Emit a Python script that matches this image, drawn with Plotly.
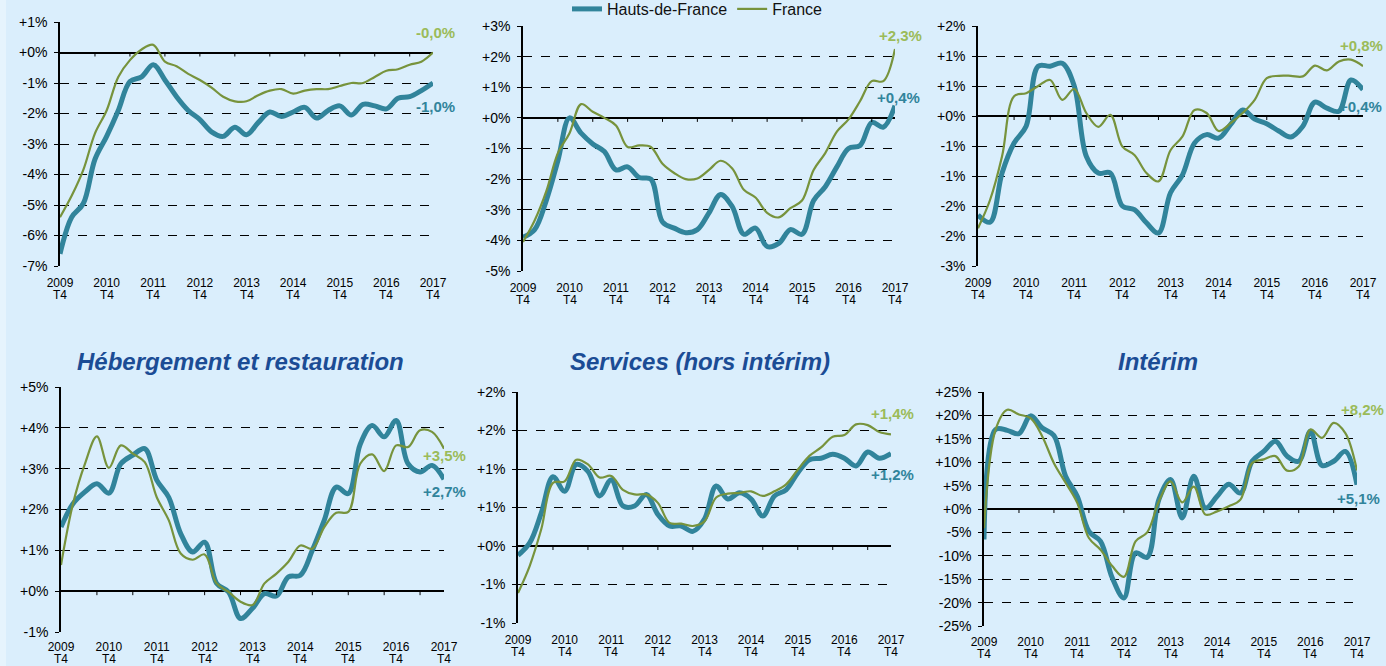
import plotly.graph_objects as go

# ---------------- data (quarterly, 2009 T4 -> 2017 T4) ----------------
quarter_idx = list(range(33))
year_tickvals = [0, 4, 8, 12, 16, 20, 24, 28, 32]
year_labels = ["2009", "2010", "2011", "2012", "2013", "2014", "2015", "2016", "2017"]
quarter_label = "T4"
minor_tick_idx = [3, 6, 9, 12, 15, 18, 21, 24, 27, 30]

hdf_p1 = [-6.6, -5.4, -4.95, -3.5, -2.75, -1.9, -0.95, -0.8, -0.4, -0.9, -1.45, -1.9, -2.2,
          -2.6, -2.75, -2.45, -2.7, -2.3, -1.95, -2.1, -1.95, -1.8, -2.15, -1.9, -1.75, -2.05,
          -1.7, -1.75, -1.85, -1.5, -1.45, -1.25, -1.0]
fr_p1 = [-5.4, -4.7, -3.85, -2.65, -1.9, -0.8, -0.25, 0.1, 0.25, -0.3, -0.45, -0.7, -0.9,
         -1.15, -1.45, -1.6, -1.6, -1.4, -1.25, -1.2, -1.35, -1.25, -1.2, -1.2, -1.1, -1.0,
         -1.0, -0.8, -0.6, -0.55, -0.4, -0.3, 0.0]

hdf_p2 = [-3.9, -3.65, -2.7, -1.4, 0.0, -0.5, -0.85, -1.1, -1.7, -1.6, -1.95, -2.0, -3.4,
          -3.6, -3.75, -3.65, -3.1, -2.5, -2.9, -3.8, -3.6, -4.2, -4.1, -3.65, -3.8, -2.7,
          -2.25, -1.6, -1.0, -0.9, -0.15, -0.3, 0.4]
fr_p2 = [-4.05, -3.35, -2.4, -1.15, -0.5, 0.45, 0.2, 0.0, -0.25, -0.95, -0.9, -0.95, -1.5,
         -1.8, -2.0, -1.98, -1.7, -1.4, -1.65, -2.35, -2.6, -3.1, -3.25, -2.95, -2.7, -1.7,
         -1.15, -0.45, -0.05, 0.55, 1.2, 1.2, 2.25]

hdf_p3 = [-1.65, -1.77, -0.95, -0.45, -0.17, 0.83, 0.83, 0.88, 0.5, -0.67, -0.95, -0.95, -1.5,
          -1.56, -1.78, -1.95, -1.28, -0.98, -0.45, -0.31, -0.37, -0.14, 0.1, -0.05, -0.13,
          -0.25, -0.35, -0.17, 0.23, 0.13, 0.08, 0.6, 0.44]
fr_p3 = [-1.87, -1.4, -0.67, 0.33, 0.38, 0.5, 0.6, 0.27, 0.45, 0.05, -0.18, 0.02, -0.51,
         -0.65, -0.95, -1.09, -0.57, -0.34, 0.1, 0.05, -0.25, -0.12, 0.05, 0.27, 0.63, 0.67,
         0.67, 0.66, 0.84, 0.76, 0.91, 0.94, 0.83]

hdf_hebergement = [1.57, 2.14, 2.43, 2.63, 2.4, 3.12, 3.33, 3.49, 2.72, 2.3, 1.41, 0.96, 1.2,
                   0.19, -0.02, -0.67, -0.42, -0.06, -0.12, 0.35, 0.39, 1.0, 1.74, 2.55, 2.39,
                   3.6, 4.06, 3.78, 4.18, 3.12, 2.92, 3.08, 2.74]
fr_hebergement = [0.64, 2.14, 3.12, 3.79, 3.02, 3.57, 3.37, 3.16, 2.3, 1.74, 0.92, 0.77, 0.9,
                  0.19, -0.02, -0.26, -0.34, 0.19, 0.43, 0.72, 1.12, 1.04, 1.57, 1.92, 1.94,
                  3.12, 3.35, 2.94, 3.57, 3.53, 3.94, 3.9, 3.49]

hdf_services = [-0.12, 0.04, 0.43, 0.9, 0.71, 1.06, 0.97, 0.65, 0.86, 0.52, 0.52, 0.67, 0.41,
                0.26, 0.26, 0.19, 0.35, 0.78, 0.61, 0.69, 0.61, 0.39, 0.65, 0.73, 0.95, 1.12,
                1.14, 1.19, 1.14, 1.04, 1.22, 1.14, 1.2]
fr_services = [-0.61, -0.26, 0.22, 0.82, 0.84, 1.12, 1.06, 0.89, 0.91, 0.73, 0.67, 0.67, 0.56,
               0.3, 0.29, 0.26, 0.32, 0.63, 0.68, 0.69, 0.71, 0.65, 0.71, 0.8, 0.99, 1.17,
               1.28, 1.42, 1.44, 1.58, 1.57, 1.48, 1.45]

hdf_interim = [-6.5, 17.0, 16.8, 16.1, 19.9, 17.3, 15.7, 7.0, 2.7, -4.8, -6.9, -14.7, -19.0,
               -9.4, -10.3, 2.0, 6.3, -1.9, 7.0, 0.2, 2.7, 5.3, 3.4, 10.2, 12.3, 14.5, 11.3,
               10.2, 16.6, 9.3, 10.2, 12.3, 5.2]
fr_interim = [-4.1, 17.0, 21.2, 20.2, 19.4, 15.5, 9.8, 5.6, 1.3, -6.2, -8.7, -12.2, -14.5,
              -6.9, -5.0, 1.6, 5.9, 1.4, 4.8, -1.2, -0.5, 0.6, 2.0, 9.8, 10.6, 11.3, 8.2, 9.1,
              17.0, 15.2, 18.4, 16.2, 8.2]

# y tick values and their labels (as printed on the chart)
yticks_p1 = [-7, -6, -5, -4, -3, -2, -1, 0, 1]
ylabels_p1 = ["-7%", "-6%", "-5%", "-4%", "-3%", "-2%", "-1%", "+0%", "+1%"]
yticks_p2 = [-5, -4, -3, -2, -1, 0, 1, 2, 3]
ylabels_p2 = ["-5%", "-4%", "-3%", "-2%", "-1%", "+0%", "+1%", "+2%", "+3%"]
yticks_p3 = [-2.5, -2.0, -1.5, -1.0, -0.5, 0, 0.5, 1.0, 1.5]
ylabels_p3 = ["-3%", "-2%", "-2%", "-1%", "-1%", "+0%", "+1%", "+1%", "+2%"]
yticks_heb = [-1, 0, 1, 2, 3, 4, 5]
ylabels_heb = ["-1%", "+0%", "+1%", "+2%", "+3%", "+4%", "+5%"]
yticks_serv = [-1.0, -0.5, 0, 0.5, 1.0, 1.5, 2.0]
ylabels_serv = ["-1%", "-1%", "+0%", "+1%", "+1%", "+2%", "+2%"]
yticks_int = [-25, -20, -15, -10, -5, 0, 5, 10, 15, 20, 25]
ylabels_int = ["-25%", "-20%", "-15%", "-10%", "-5%", "+0%", "+5%", "+10%", "+15%", "+20%", "+25%"]

titles = ["", "", "", "Hébergement et restauration", "Services (hors intérim)", "Intérim"]
end_labels_fr = ["-0,0%", "+2,3%", "+0,8%", "+3,5%", "+1,4%", "+8,2%"]
end_labels_hdf = ["-1,0%", "+0,4%", "+0,4%", "+2,7%", "+1,2%", "+5,1%"]

# ---------------- styling / layout ----------------
W, H = 1386, 666
BG = "#daeefc"
TEAL = "#31849b"
GREEN = "#77933c"
GREEN_LBL = "#9bbb59"
TITLE_C = "#1b4c95"

panels = [
    dict(h=hdf_p1, f=fr_p1, tv=yticks_p1, tt=ylabels_p1, area=(60, 433, 22, 266),
         lab_f=(20, 2), lab_h=(-23, 2), tc=None, so=8, t4=-29),
    dict(h=hdf_p2, f=fr_p2, tv=yticks_p2, tt=ylabels_p2, area=(523, 895, 26, 271),
         lab_f=(13, 5), lab_h=(8, 3), tc=None, so=8, t4=-29),
    dict(h=hdf_p3, f=fr_p3, tv=yticks_p3, tt=ylabels_p3, area=(978, 1363, 26, 266),
         lab_f=(21, -2), lab_h=(-17, -3), tc=None, so=8, t4=-29),
    dict(h=hdf_hebergement, f=fr_hebergement, tv=yticks_heb, tt=ylabels_heb,
         area=(61, 444, 387, 632), lab_f=(-7, 0), lab_h=(-12, 0), tc=240, so=6, t4=-27),
    dict(h=hdf_services, f=fr_services, tv=yticks_serv, tt=ylabels_serv,
         area=(518, 891, 392, 623), lab_f=(21, 1), lab_h=(-21, 1), tc=700, so=8, t4=-29),
    dict(h=hdf_interim, f=fr_interim, tv=yticks_int, tt=ylabels_int,
         area=(984, 1357, 392, 626), lab_f=(61, 5), lab_h=(-14, 1), tc=1158, so=7, t4=-28),
]

FONT = "Liberation Sans, Arial, sans-serif"
fig = go.Figure()
annotations = []
shapes = [dict(type="rect", xref="paper", yref="paper", x0=0, x1=6 / W, y0=0, y1=1,
               fillcolor="#e6f4fd", line=dict(width=0), layer="below")]
layout = {}

for k, p in enumerate(panels):
    n = k + 1
    sx = "" if n == 1 else str(n)
    xr, yr = "x" + sx, "y" + sx
    x0, x1, y0, y1 = p["area"]
    ymin, ymax = p["tv"][0], p["tv"][-1]

    fig.add_trace(go.Scatter(x=quarter_idx, y=p["h"], mode="lines", name="Hauts-de-France",
                             line=dict(color=TEAL, width=5, shape="spline", smoothing=1.0),
                             legendgroup="hdf", showlegend=(n == 1), xaxis=xr, yaxis=yr,
                             cliponaxis=False))
    fig.add_trace(go.Scatter(x=quarter_idx, y=p["f"], mode="lines", name="France",
                             line=dict(color=GREEN, width=2.2, shape="spline", smoothing=1.0),
                             legendgroup="fr", showlegend=(n == 1), xaxis=xr, yaxis=yr,
                             cliponaxis=False))

    layout["xaxis" + sx] = dict(
        domain=[x0 / W, x1 / W], anchor=yr, range=[0, 32], tickmode="array",
        tickvals=year_tickvals, ticktext=year_labels, showgrid=False, zeroline=False,
        showline=False, ticks="", tickfont=dict(size=12, color="#000", family=FONT),
        ticklabelstandoff=p["so"], automargin=False, fixedrange=True)
    layout["yaxis" + sx] = dict(
        domain=[1 - y1 / H, 1 - y0 / H], anchor=xr, range=[ymin, ymax], tickmode="array",
        tickvals=p["tv"], ticktext=p["tt"], showgrid=True, gridcolor="#000", gridwidth=1,
        griddash="dash", zeroline=True, zerolinecolor="#000", zerolinewidth=1.5,
        showline=True, linecolor="#000", linewidth=1.5, ticks="outside", ticklen=4,
        tickcolor="#000", tickwidth=1, tickfont=dict(size=14, color="#000", family=FONT),
        ticklabelstandoff=4, automargin=False, fixedrange=True)

    # second line of the category labels ("T4")
    for tv in year_tickvals:
        annotations.append(dict(xref=xr, yref=yr + " domain", x=tv, y=0, text=quarter_label,
                                showarrow=False, xanchor="center", yanchor="middle",
                                yshift=p["t4"], font=dict(size=12, color="#000", family=FONT)))

    # small tick marks hanging below the zero line
    tlen = 4 * (ymax - ymin) / (y1 - y0)
    for xi in minor_tick_idx:
        shapes.append(dict(type="line", xref=xr, yref=yr, x0=xi, x1=xi, y0=0, y1=-tlen,
                           line=dict(color="#000", width=1)))

    # end-of-series labels
    annotations.append(dict(xref=xr, yref=yr, x=32, y=p["f"][-1], text="<b>%s</b>" % end_labels_fr[k],
                            showarrow=False, yshift=p["lab_f"][0], xshift=p["lab_f"][1],
                            font=dict(size=15, color=GREEN_LBL, family=FONT)))
    annotations.append(dict(xref=xr, yref=yr, x=32, y=p["h"][-1], text="<b>%s</b>" % end_labels_hdf[k],
                            showarrow=False, yshift=p["lab_h"][0], xshift=p["lab_h"][1],
                            font=dict(size=15, color=TEAL, family=FONT)))
    if titles[k]:
        annotations.append(dict(xref="paper", yref="paper", x=p["tc"] / W,
                                y=1 - 361 / H, yanchor="middle", xanchor="center",
                                text="<b><i>%s</i></b>" % titles[k], showarrow=False,
                                font=dict(size=24, color=TITLE_C, family=FONT)))

layout.update(dict(
    width=W, height=H, margin=dict(l=0, r=0, t=0, b=0, autoexpand=False),
    paper_bgcolor=BG, plot_bgcolor=BG,
    font=dict(family=FONT, color="#000"),
    showlegend=True,
    legend=dict(orientation="h", x=567 / W, y=1 + 8 / H, xanchor="left", yanchor="top",
                bgcolor="rgba(0,0,0,0)", font=dict(size=16, color="#111", family=FONT),
                itemwidth=30, tracegroupgap=0),
    annotations=annotations,
    shapes=shapes,
))
fig.update_layout(**layout)
fig.write_html("out.html", config={"displayModeBar": False},
               post_script="document.body.style.margin='0';document.body.style.padding='0';"
                           "document.body.style.overflow='hidden';"
                           "document.body.style.background='#daeefc';")
